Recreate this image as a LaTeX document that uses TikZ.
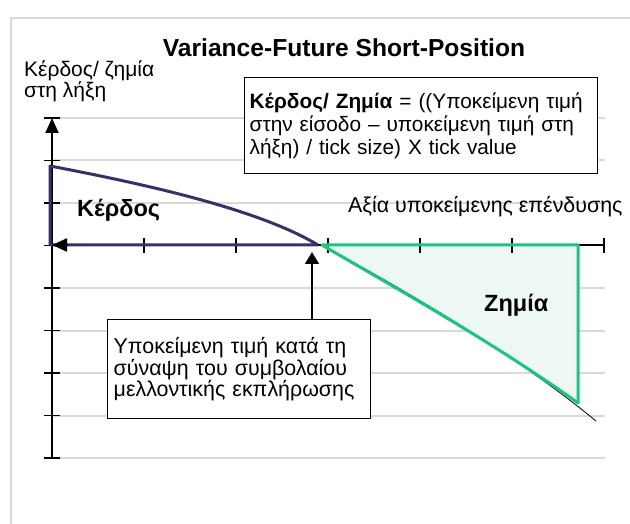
\documentclass[tikz,border=0pt]{standalone}
\usepackage{fontspec}
\setmainfont{Liberation Sans}
\definecolor{pfGrid}{HTML}{D9D9D9}
\definecolor{pfGain}{HTML}{333366}
\definecolor{pfLoss}{HTML}{19C77C}
\definecolor{pfLossFill}{HTML}{EDF7F3}
\usetikzlibrary{arrows.meta}

\begin{document}
\begin{tikzpicture}[x=1pt, y=-1pt,
  callout/.style={draw, line width=1.4pt, fill=white, align=left, anchor=north west, inner xsep=5pt},
  axistip/.style={{Triangle[length=15pt,width=13pt]}-}]
  \useasboundingbox (0,0) rectangle (630,524);
  \fill[white] (0,0) rectangle (630,524);
  % frame of the chart
  \draw[pfGrid, line width=1.5pt] (11,540) -- (11,18) -- (650,18);
  % grid lines
  \foreach \y in {118,160.5,...,460}
    \draw[pfGrid, line width=2pt] (52,\y) -- (605,\y);
  % loss area
  \fill[pfLossFill] (322,245) .. controls (390,285) and (490,340) .. (578,403) -- (578,245) -- cycle;
  % axes and ticks
  \draw[line width=2pt, axistip] (52,118) -- (52,458);
  \draw[line width=2pt] (52,245) -- (605,245);
  \foreach \y in {118,160.5,...,460}
    \draw[line width=1.5pt] (44,\y) -- (60,\y);
  \foreach \x in {144,236,...,610}
    \draw[line width=1.5pt] (\x,238) -- (\x,253);
  % gain part
  \draw[pfGain, line width=3pt, line join=round] (318,245) -- (50,245) -- (50,166) .. controls (150,185) and (260,210) .. (318,245);
  \draw[line width=2pt, axistip] (52,245) -- (68,245);
  % loss part
  \draw[line width=0.8pt] (322,245) .. controls (395,285) and (510,350) .. (596,421);
  \draw[pfLoss, line width=3pt, line join=round] (322,245) .. controls (390,285) and (490,340) .. (578,403) -- (578,245) -- cycle;

  % labels
  \node[anchor=base, font=\bfseries\fontsize{24.6}{28}\selectfont] (title) at (344,57) {Variance-Future Short-Position};
  \node[anchor=base west, align=left, inner sep=0pt, font=\fontsize{21}{21}\selectfont] (ylabel) at (24,98) {Κέρδος/ ζημία\\στη λήξη};
  \node[anchor=base west, inner sep=0pt, font=\fontsize{21.4}{23}\selectfont] (xlabel) at (348,213) {Αξία υποκείμενης επένδυσης};
  \node[anchor=base west, inner sep=0pt, font=\bfseries\fontsize{23.5}{27}\selectfont] (gain) at (77,217) {Κέρδος};
  \node[anchor=base west, inner sep=0pt, font=\bfseries\fontsize{23.5}{27}\selectfont] (loss) at (484,312) {Ζημία};

  % boxes
  \node[callout, minimum width=353pt, minimum height=96pt, text width=343pt,
    font=\fontsize{20.8}{23}\selectfont] (formula) at (244,77)
    {\textbf{Κέρδος/ Ζημία} = ((Υποκείμενη τιμή\\στην είσοδο – υποκείμενη τιμή στη\\λήξη) / tick size) X tick value};
  \node[callout, minimum width=263pt, minimum height=99pt, text width=251pt,
    font=\fontsize{21.4}{20.5}\selectfont] (entry) at (107,319)
    {Υποκείμενη τιμή κατά τη\\σύναψη του συμβολαίου\\μελλοντικής εκπλήρωσης};
  \coordinate (strike) at (312,252);
  \draw[line width=1.5pt, -{Triangle[length=12pt,width=14pt]}] (entry.north -| strike) -- (strike);
\end{tikzpicture}
\end{document}
